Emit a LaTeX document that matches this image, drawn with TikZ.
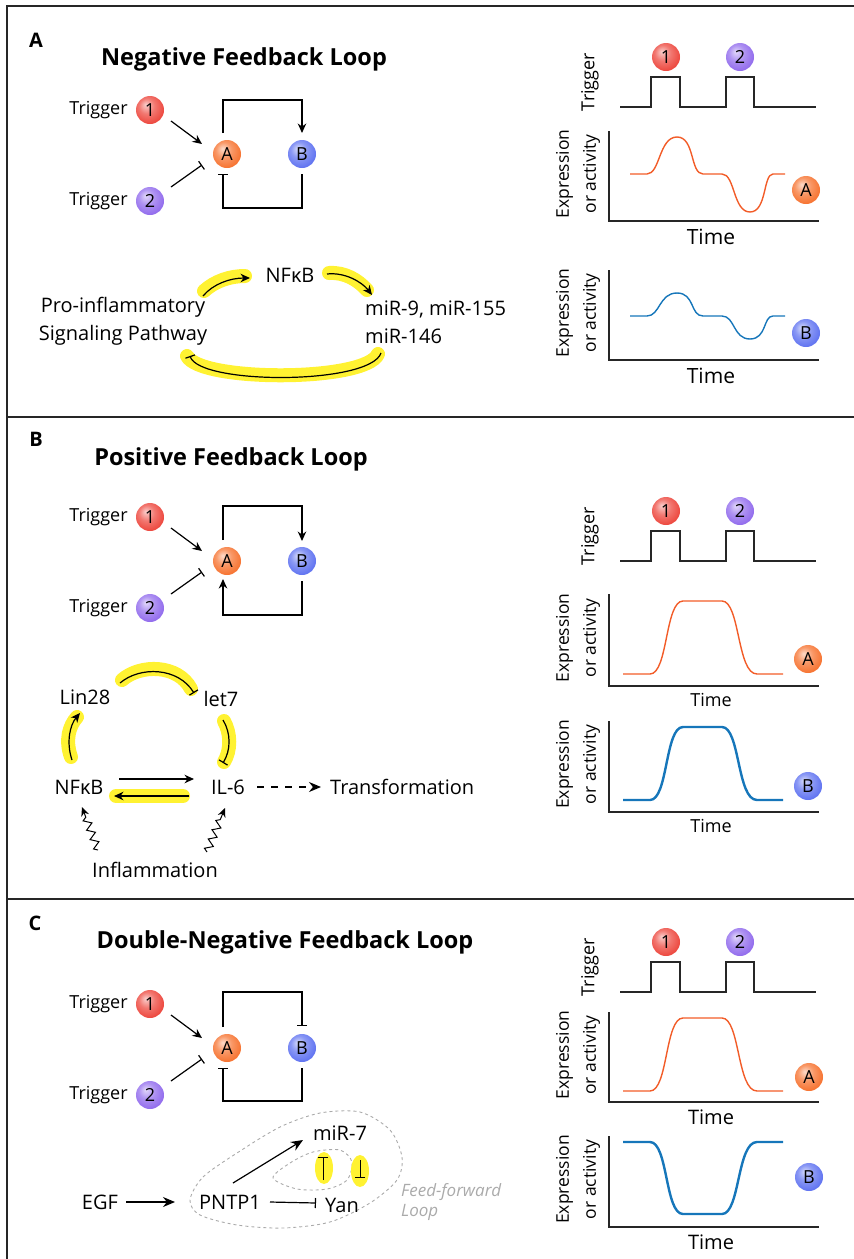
\documentclass[tikz,border=0pt]{standalone}
\usepackage{fontspec}
\setmainfont{Open Sans}
\usetikzlibrary{arrows.meta,positioning,decorations.pathmorphing}

\definecolor{trigone}{RGB}{236,62,52}
\definecolor{trigtwo}{RGB}{140,100,236}
\definecolor{nodea}{RGB}{246,108,38}
\definecolor{nodeb}{RGB}{88,108,240}
\definecolor{curvea}{RGB}{242,92,40}
\definecolor{curveb}{RGB}{22,118,186}
\definecolor{marker}{RGB}{255,242,50}
\definecolor{ffgray}{RGB}{170,170,170}

% a lighter ball, highlight up and to the left
\makeatletter
\pgfdeclareradialshading[tikz@ball]{softball}{\pgfqpoint{-8bp}{10bp}}{%
  color(0bp)=(tikz@ball!25!white); color(14bp)=(tikz@ball!70!white);
  color(32bp)=(tikz@ball); color(50bp)=(tikz@ball!80!black)}
\makeatother

\tikzset{
  ball/.style={circle,minimum size=28pt,inner sep=0pt,ball color=#1,shading=softball,
    font=\fontsize{18}{18}\selectfont},
  act/.style={-{Stealth[length=9.5pt,width=8.5pt]},line width=1.2pt},
  bigtip/.style={-{Stealth[length=12pt,width=10pt]}},
  inh/.style={-{Bar[width=10pt]},line width=1.2pt},
  glow/.style={draw=marker,line width=14pt,line cap=round},
  trace/.style={line width=1.3pt,black!85},
  axisln/.style={line width=1.3pt,black!85},
  frame/.style={line width=2pt,black!85},
  panel/.style={font=\fontsize{20}{20}\selectfont\bfseries},
  ttl/.style={font=\fontsize{23.5}{24}\selectfont\bfseries},
  trig/.style={font=\fontsize{18}{18}\selectfont,inner sep=0pt},
  gene/.style={font=\fontsize{20}{28}\selectfont,inner sep=1pt},
  ylbl/.style={rotate=90,align=center,font=\fontsize{17.5}{27}\selectfont},
  wavy/.style={-{Stealth[length=9pt,width=8pt]},line width=1pt,decorate,
    decoration={zigzag,amplitude=3.8pt,segment length=10pt,post length=8pt}},
  ffline/.style={ffgray,line width=0.9pt,dash pattern=on 3pt off 3pt},
  ffnote/.style={ffgray,font=\fontsize{17}{20}\selectfont\itshape,inner sep=0pt}
}

\begin{document}
\begin{tikzpicture}[x=1pt,y=-1pt]
  \useasboundingbox (0,0) rectangle (854,1259);

  % frame and panel separators
  \draw[frame] (7,1259) -- (7,6) -- (854,6);
  \draw[frame] (7,417) -- (854,417);
  \draw[frame] (7,899) -- (854,899);

  % panel letters and titles
  \node[panel] (pa) at (36,40) {A};
  \node[ttl] (ta) at (244,59) {Negative Feedback Loop};
  \node[panel] (pb) at (36,439) {B};
  \node[ttl] (tb) at (231,459) {Positive Feedback Loop};
  \node[panel] (pc) at (35,923) {C};
  \node[ttl] (tc) at (285,942) {Double-Negative Feedback Loop};

  % triggers and the A/B pair
  \foreach \p/\y in {a/110,b/517,c/1004}{
    \node[ball=trigone] (t1\p) at (150,\y) {1};
    \node[ball=trigtwo] (t2\p) at (150,\y+91) {2};
    \node[trig,left=8pt of t1\p] (tt1\p) {Trigger};
    \node[trig,left=8pt of t2\p] (tt2\p) {Trigger};
    \node[ball=nodea] (A\p) at (227,\y+44) {A};
    \node[ball=nodeb] (B\p) at (302,\y+44) {B};
    \draw[act] ([shift={(21,11)}]t1\p.center) -- ([shift={(-25,-10)}]A\p.center);
    \draw[inh] ([shift={(21,-14)}]t2\p.center) -- ([shift={(-25,11)}]A\p.center);
  }
  % loops
  \draw[act] ([shift={(-4,-21)}]Aa.center) |- ([shift={(0,-54)}]Ba.center) -- ([shift={(0,-21)}]Ba.center);
  \draw[inh] ([shift={(0,20)}]Ba.center) |- ([shift={(-4,54)}]Aa.center) -- ([shift={(-4,20)}]Aa.center);
  \draw[act] ([shift={(-4,-21)}]Ab.center) |- ([shift={(0,-55)}]Bb.center) -- ([shift={(0,-20)}]Bb.center);
  \draw[act] ([shift={(0,20)}]Bb.center) |- ([shift={(-4,54)}]Ab.center) -- ([shift={(-4,18)}]Ab.center);
  \draw[inh] ([shift={(-4,-21)}]Ac.center) |- ([shift={(0,-56)}]Bc.center) -- ([shift={(0,-22)}]Bc.center);
  \draw[inh] ([shift={(0,20)}]Bc.center) |- ([shift={(-4,53)}]Ac.center) -- ([shift={(-4,20)}]Ac.center);

  % NF-kB / miRNA loop
  \node[gene] (nfkba) at (290,275) {NFκB};
  \node[gene,align=center] (proa) at (123,321) {Pro-inflammatory\\Signaling Pathway};
  \node[gene,align=left,anchor=west] (mira) at (364,322) {miR-9, miR-155\\miR-146};
  \draw[glow] (204,291) .. controls (215,281) and (230,276) .. (245,276);
  \draw[glow] (329,273) .. controls (345,272) and (358,280) .. (367,290);
  \draw[glow] (378,354) .. controls (366,382) and (200,382) .. (187,356);
  \draw[act] ([shift={(80,-25)}]proa.center) .. controls (213,284) and (230,278) .. ([shift={(-40,3)}]nfkba.center);
  \draw[act] ([shift={(37,-1)}]nfkba.center) .. controls (345,272) and (362,282) .. ([shift={(8,-27)}]mira.west);
  \draw[inh] ([shift={(17,31)}]mira.west) .. controls (370,385) and (200,385) .. ([shift={(67,35)}]proa.center);

  % Lin28 / let7 / IL-6 loop
  \node[gene] (lin) at (85,697) {Lin28};
  \node[gene] (let) at (221,699) {let7};
  \node[gene] (nfkbb) at (79,787) {NFκB};
  \node[gene] (il6) at (228,787) {IL-6};
  \node[gene,anchor=west] (trf) at (329,787) {Transformation};
  \node[gene] (infl) at (155,870) {Inflammation};
  \draw[glow] (71,757) .. controls (65,740) and (69,726) .. (77,717);
  \draw[glow] (122,680) .. controls (140,664) and (178,664) .. (191,689);
  \draw[glow] (224,721) .. controls (231,734) and (231,750) .. (224,762);
  \draw[glow] (116,796) -- (183,796);
  \draw[act] ([shift={(40,-8)}]nfkbb.center) -- ([shift={(-34,-8)}]il6.center);
  \draw[act] ([shift={(-39,9)}]il6.center) -- ([shift={(35,9)}]nfkbb.center);
  \draw[act] ([shift={(-7,-27)}]nfkbb.center) .. controls (66,742) and (70,725) .. ([shift={(-5,16)}]lin.center);
  \draw[inh] ([shift={(35,-14)}]lin.center) .. controls (140,666) and (178,667) .. ([shift={(-27,-6)}]let.center);
  \draw[inh] ([shift={(2,21)}]let.center) .. controls (231,733) and (231,750) .. ([shift={(-5,-24)}]il6.center);
  \draw[act,bigtip,dash pattern=on 7pt off 7pt] ([shift={(29,0)}]il6.center) -- ([xshift=-8pt]trf.west);
  \draw[wavy] ([shift={(-57,-20)}]infl.center) -- ([shift={(3,20)}]nfkbb.center);
  \draw[wavy] ([shift={(52,-18)}]infl.center) -- ([shift={(-3,21)}]il6.center);

  % EGF feed-forward loop
  \draw[ffline] plot[smooth cycle] coordinates {(190,1200) (203,1177) (237,1153) (280,1127)
    (320,1113) (360,1112) (390,1130) (402,1157) (397,1180) (370,1203) (330,1222)
    (283,1228) (237,1225) (200,1215)};
  \draw[ffline] plot[smooth cycle] coordinates {(273,1178) (290,1163) (313,1152) (340,1150)
    (352,1162) (347,1180) (327,1189) (297,1189)};
  \fill[marker] (324,1168) ellipse[x radius=9pt,y radius=16pt];
  \fill[marker] (360,1171) ellipse[x radius=9pt,y radius=16pt];
  \node[gene] (egf) at (100,1202) {EGF};
  \node[gene] (pnt) at (230,1202) {PNTP1};
  \node[gene] (yan) at (342,1205) {Yan};
  \node[gene] (mir7) at (340,1133) {miR-7};
  \node[ffnote,anchor=west,align=left] (ffl) at (401,1202) {Feed-forward\\Loop};
  \draw[act,bigtip] ([shift={(26,0)}]egf.center) -- ([shift={(-55,0)}]pnt.center);
  \draw[inh] ([shift={(40,0)}]pnt.center) -- ([shift={(-26,-2)}]yan.center);
  \draw[act,bigtip] ([shift={(3,-19)}]pnt.center) -- ([shift={(-37,7)}]mir7.center);
  \draw[inh,line width=1pt] ([shift={(-19,-25)}]yan.center) -- ([shift={(-17,24)}]mir7.center);
  \draw[inh,line width=1pt] ([shift={(20,27)}]mir7.center) -- ([shift={(18,-27)}]yan.center);

  % trigger pulses
  \foreach \p/\yb in {a/107,b/561,c/992}{
    \draw[trace] (620,\yb) -- (651,\yb) -- (651,\yb-30) -- (680,\yb-30) -- (680,\yb)
      -- (726,\yb) -- (726,\yb-30) -- (754,\yb-30) -- (754,\yb) -- (816,\yb);
    \node[ball=trigone] (p1\p) at (666,\yb-50) {1};
    \node[ball=trigtwo] (p2\p) at (740,\yb-50) {2};
    \node[trig,rotate=90] (tl\p) at (590,\yb-25) {Trigger};
  }

  % response axes
  \foreach \yt/\yl/\ts in {131/221/21,270/360/21,594/686/18,721/812/18,1012/1102/20,1136/1227/20}{
    \draw[axisln] (609,\yt) -- (609,\yl) -- (819,\yl);
    \node[ylbl] (ex\yt) at (578,{(\yt+\yl)/2-2}) {Expression\\or activity};
    \node[font=\fontsize{\ts}{\ts}\selectfont,inner sep=0pt] (tm\yt) at (711,{\yl+0.75*\ts}) {Time};
  }

  % responses: negative loop
  \foreach \c/\m/\h/\l in {curvea/174/137/212,curveb/316/293/339}{
    \draw[\c,line width=1.4pt] (630,\m) -- (647,\m) .. controls (660,\m) and (659,\h) .. (677,\h)
      .. controls (695,\h) and (690,\m) .. (703,\m) -- (722,\m)
      .. controls (735,\m) and (733,\l) .. (750,\l) .. controls (767,\l) and (763,\m) .. (773,\m) -- (785,\m);
  }
  % responses: positive and double-negative loops
  \foreach \c/\w/\s/\e in {curvea/1.4/674/601,curveb/2.4/800/727,curvea/1.4/1091/1018,curveb/2.4/1142/1214}{
    \draw[\c,line width=\w pt] (623,\s) -- (650,\s) .. controls (668,\s) and (665,\e) .. (683,\e) -- (722,\e)
      .. controls (740,\e) and (737,\s) .. (757,\s) -- (783,\s);
  }
  \node[ball=nodea] (ra1) at (806,190) {A};
  \node[ball=nodeb] (rb1) at (806,333) {B};
  \node[ball=nodea] (ra2) at (808,659) {A};
  \node[ball=nodeb] (rb2) at (808,786) {B};
  \node[ball=nodea] (ra3) at (809,1077) {A};
  \node[ball=nodeb] (rb3) at (809,1177) {B};
\end{tikzpicture}
\end{document}
